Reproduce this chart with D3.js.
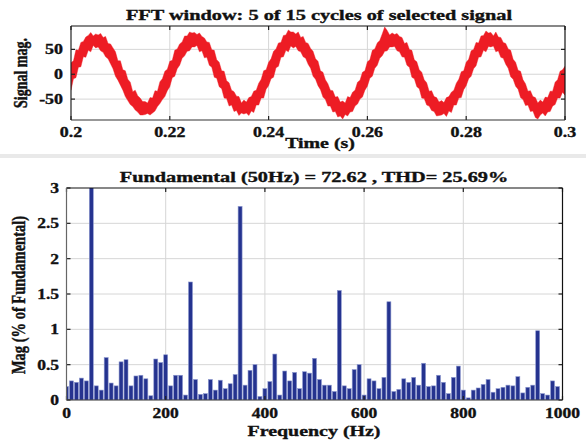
<!DOCTYPE html>
<html>
<head>
<meta charset="utf-8">
<script src="https://cdn.jsdelivr.net/npm/d3@7"></script>
<style>
  body { margin: 0; background: #fff; }
  svg { display: block; }
</style>
</head>
<body>
<svg id="chart" width="586" height="443"></svg>
<script>
// FFT analysis figure: time signal window on top, harmonic spectrum below.

// --- top panel: noisy signal envelope, sampled every 0.5 ms from 0.2 s to 0.3 s
const sigStart = 0.2;
const sigStep = 0.0005;
const sigUpper = [
  23,27,49,48,64,66,75,78,84,77,81,79,82,74,76,62,61,53,45,27,27,9,7,-10,-16,-35,-32,-43,-48,-55,-55,-58,-47,-48,-33,-34,-15,-9,6,10,
  26,28,48,51,61,65,77,77,85,83,84,80,83,76,73,65,64,49,48,29,24,7,6,-13,-17,-32,-35,-44,-45,-58,-52,-56,-47,-45,-34,-32,-18,-10,7,9,
  24,31,46,51,63,64,78,79,89,85,85,81,85,74,76,64,62,52,46,31,26,7,4,-11,-19,-32,-33,-46,-45,-56,-54,-58,-45,-47,-36,-32,-16,-12,4,7,
  25,29,48,51,63,68,81,95,88,79,83,80,82,76,74,62,64,50,48,29,25,9,4,-11,-17,-34,-33,-45,-47,-56,-53,-57,-47,-45,-36,-32,-18,-10,5,7,
  24,30,47,50,64,63,77,78,87,83,84,77,85,75,74,64,62,51,48,30,24,8,6,-11,-19,-34,-33,-45,-47,-58,-52,-56,-46,-47,-34,-34,-16,-11,6,9,
  16
];
const sigLower = [
  -32,-9,-7,14,15,35,34,48,45,58,53,55,47,44,35,31,21,11,-4,-12,-22,-32,-45,-53,-61,-65,-72,-76,-82,-82,-81,-79,-82,-78,-74,-65,-59,-51,-45,-33,
  -25,-7,-4,11,18,32,37,46,47,55,55,58,45,47,33,34,18,14,-6,-8,-25,-29,-48,-49,-64,-62,-75,-73,-83,-78,-80,-78,-83,-74,-77,-62,-62,-48,-48,-30,
  -23,-9,-6,13,16,34,35,48,45,57,53,56,47,45,35,32,20,12,-4,-10,-23,-31,-46,-51,-64,-64,-76,-75,-86,-84,-90,-81,-84,-76,-75,-64,-60,-50,-46,-32,
  -24,-8,-4,12,18,32,37,46,47,55,55,56,47,45,35,34,18,14,-6,-9,-25,-29,-48,-49,-62,-64,-73,-75,-84,-83,-82,-79,-85,-74,-77,-62,-62,-48,-47,-31,
  -23,-9,-4,11,17,34,35,48,45,56,55,57,45,47,34,32,20,12,-5,-10,-24,-30,-47,-51,-63,-62,-75,-74,-87,-90,-82,-78,-84,-76,-75,-64,-61,-48,-48,-36,
  -42
];
const timeTicks = [0.2, 0.22, 0.24, 0.26, 0.28, 0.3];
const sigTicks = [-50, 0, 50];

// --- bottom panel: harmonic magnitudes (% of fundamental), 10 Hz bins from 0 Hz
const freqStep = 10;
const mags = [
  0.19, 0.27, 0.25, 0.31, 0.27, 100, 0.20, 0.14, 0.60, 0.24,
  0.20, 0.54, 0.57, 0.20, 0.34, 0.35, 0.30, 0.06, 0.58, 0.53,
  0.64, 0.20, 0.35, 0.35, 0.07, 1.67, 0.29, 0.08, 0.09, 0.29,
  0.14, 0.28, 0.16, 0.23, 0.36, 2.74, 0.21, 0.42, 0.50, 0.05,
  0.16, 0.26, 0.65, 0.07, 0.41, 0.27, 0.39, 0.16, 0.40, 0.38,
  0.59, 0.29, 0.21, 0.21, 0.12, 1.55, 0.20, 0.16, 0.43, 0.50,
  0.07, 0.30, 0.27, 0.16, 0.32, 1.39, 0.12, 0.15, 0.30, 0.25,
  0.32, 0.21, 0.52, 0.19, 0.20, 0.35, 0.25, 0.09, 0.32, 0.48,
  0.14, 0.03, 0.14, 0.17, 0.22, 0.29, 0.11, 0.16, 0.18, 0.21,
  0.20, 0.33, 0.10, 0.18, 0.21, 0.98, 0.09, 0.07, 0.27, 0.19
];
const freqTicks = [0, 200, 400, 600, 800, 1000];
const magTicks = [0, 0.5, 1, 1.5, 2, 2.5, 3];

const topTitle = 'FFT window: 5 of 15 cycles of selected signal';
const bottomTitle = 'Fundamental (50Hz) = 72.62 , THD= 25.69%';

const FONT = '"Liberation Serif", "Times New Roman", serif';

const svg = d3.select('#chart');
svg.append('rect').attr('width', 586).attr('height', 443).attr('fill', '#fff');

// the original figure is stretched sideways, so text gets a horizontal scale
function label(text, x, y, size, sx, anchor, rotate) {
  return svg.append('text')
    .attr('transform', `translate(${x},${y}) scale(${sx},1)${rotate ? ' rotate(-90)' : ''}`)
    .attr('text-anchor', anchor || 'middle')
    .style('font-family', FONT)
    .style('font-weight', 'bold')
    .style('font-size', size + 'px')
    .attr('fill', '#111')
    .attr('stroke', '#111')
    .attr('stroke-width', 0.35)
    .text(text);
}

function grid(x, y, xTicks, yTicks, id) {
  const [x0, x1] = x.range();
  const [y0, y1] = y.range();
  const g = svg.append('g');

  xTicks.slice(1, -1).forEach(t => {
    g.append('line').attr('x1', x(t)).attr('x2', x(t)).attr('y1', y1).attr('y2', y0)
      .attr('stroke', '#d6d6d6').attr('stroke-width', 1);
  });
  yTicks.forEach(t => {
    if (y(t) <= y1 + 1 || y(t) >= y0 - 1) return;
    g.append('line').attr('x1', x0).attr('x2', x1).attr('y1', y(t)).attr('y2', y(t))
      .attr('stroke', '#d6d6d6').attr('stroke-width', 1);
  });

  svg.append('clipPath').attr('id', id)
    .append('rect').attr('x', x0).attr('y', y1).attr('width', x1 - x0).attr('height', y0 - y1);
}

function border(x, y, xTicks, yTicks, leftColor) {
  const [x0, x1] = x.range();
  const [y0, y1] = y.range();
  const g = svg.append('g').attr('stroke-width', 1.2).attr('fill', 'none');

  xTicks.forEach(t => {
    g.append('line').attr('x1', x(t)).attr('x2', x(t)).attr('y1', y0).attr('y2', y0 - 4).attr('stroke', '#222');
    g.append('line').attr('x1', x(t)).attr('x2', x(t)).attr('y1', y1).attr('y2', y1 + 4).attr('stroke', '#222');
  });
  yTicks.forEach(t => {
    g.append('line').attr('x1', x0).attr('x2', x0 + 4).attr('y1', y(t)).attr('y2', y(t)).attr('stroke', '#222');
    g.append('line').attr('x1', x1).attr('x2', x1 - 4).attr('y1', y(t)).attr('y2', y(t)).attr('stroke', '#222');
  });

  g.append('line').attr('x1', x0).attr('x2', x1).attr('y1', y1).attr('y2', y1).attr('stroke', '#111');
  g.append('line').attr('x1', x1).attr('x2', x1).attr('y1', y1).attr('y2', y0).attr('stroke', '#111');
  g.append('line').attr('x1', x0).attr('x2', x1).attr('y1', y0).attr('y2', y0).attr('stroke', '#333');
  g.append('line').attr('x1', x0).attr('x2', x0).attr('y1', y1).attr('y2', y0).attr('stroke', leftColor);
}

// ---------- top panel ----------
const xT = d3.scaleLinear().domain([0.2, 0.3]).range([71, 565]);
const yT = d3.scaleLinear().domain([-92, 97]).range([120, 26]);

grid(xT, yT, timeTicks, sigTicks, 'clip-top');

const sigData = sigUpper.map((u, i) => ({ t: sigStart + i * sigStep, hi: u, lo: sigLower[i] }));
const band = d3.area()
  .x(d => xT(d.t))
  .y0(d => yT(d.lo))
  .y1(d => yT(d.hi));

svg.append('path')
  .datum(sigData)
  .attr('clip-path', 'url(#clip-top)')
  .attr('d', band)
  .attr('fill', '#ed1c24')
  .attr('stroke', '#ed1c24')
  .attr('stroke-width', 0.4);

border(xT, yT, timeTicks, sigTicks, '#222');

timeTicks.forEach(t => label(String(t), xT(t), 137, 14, 1.28));
sigTicks.forEach(t => label(String(t), 63, yT(t) + 5, 14, 1.28, 'end'));
label(topTitle, 319, 20, 14, 1.45);
label('Time (s)', 320, 148, 14, 1.42);
label('Signal mag.', 27, 73, 14, 1.3, 'middle', true);

// separator strip between the two panels
svg.append('rect').attr('x', 0).attr('y', 154).attr('width', 586).attr('height', 4).attr('fill', '#e9e9e9');

// ---------- bottom panel ----------
const xB = d3.scaleLinear().domain([0, 1000]).range([66.5, 562.5]);
const yB = d3.scaleLinear().domain([0, 3]).range([400, 188]);

grid(xB, yB, freqTicks, magTicks, 'clip-bottom');

const barW = (xB(freqStep) - xB(0)) * 0.8;
svg.append('g')
  .attr('clip-path', 'url(#clip-bottom)')
  .selectAll('rect')
  .data(mags)
  .join('rect')
  .attr('x', (d, i) => xB(i * freqStep) - barW / 2)
  .attr('y', d => yB(d))
  .attr('width', barW)
  .attr('height', d => yB(0) - yB(d))
  .attr('fill', '#25338f')
  .attr('stroke', '#8d98cf')
  .attr('stroke-width', 0.6);

border(xB, yB, freqTicks, magTicks, '#666');

freqTicks.forEach(t => label(String(t), xB(t), 418, 14, 1.25));
magTicks.forEach(t => label(String(t), 59, yB(t) + 5, 14, 1.25, 'end'));
label(bottomTitle, 314, 182, 14, 1.45);
label('Frequency (Hz)', 314, 436, 15, 1.33);
label('Mag (% of Fundamental)', 25, 295, 14.5, 1.3, 'middle', true);
</script>
</body>
</html>
